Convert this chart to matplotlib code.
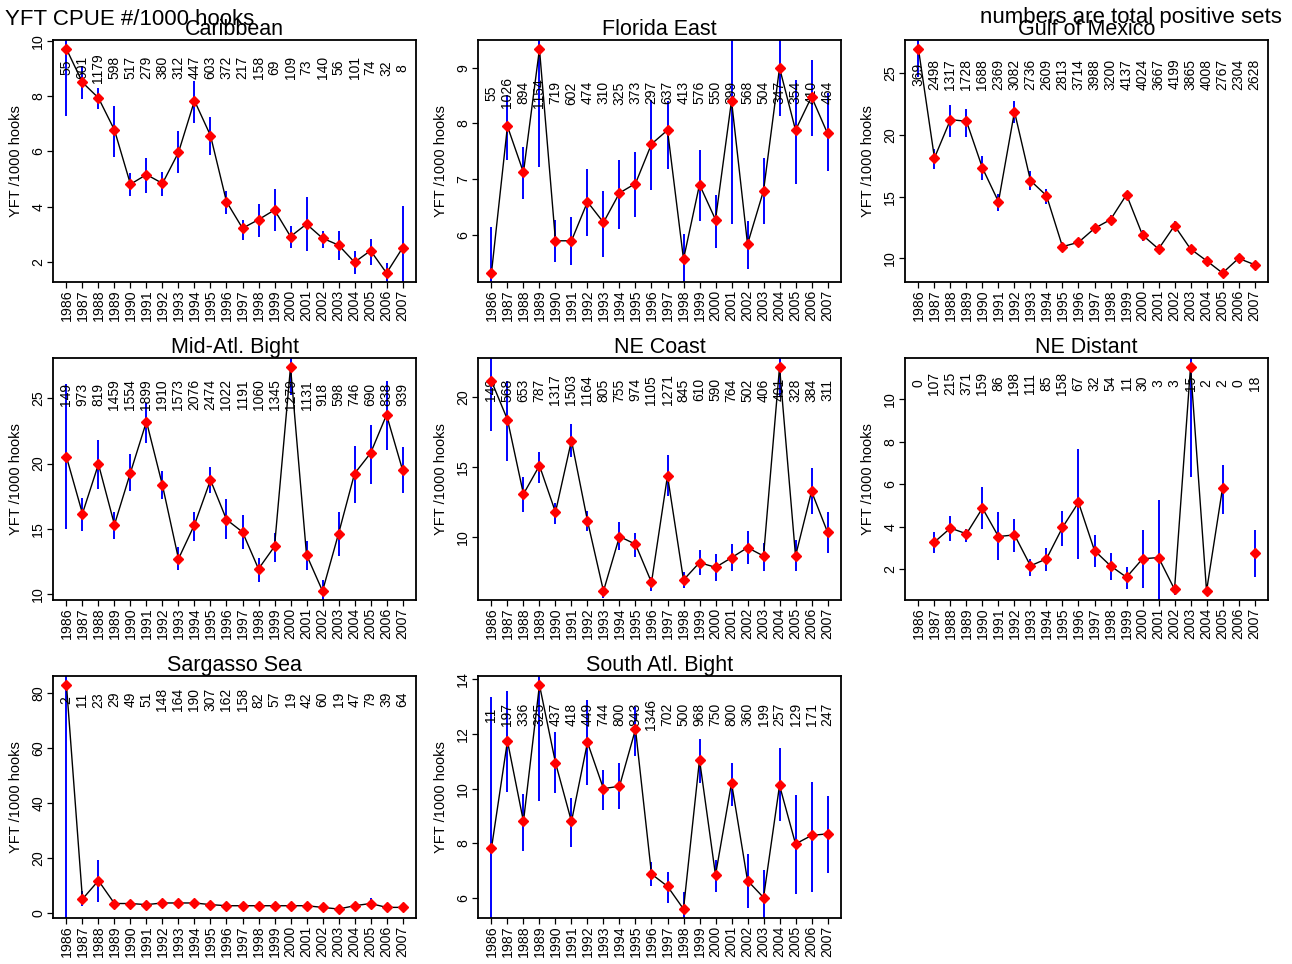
import numpy as np
import matplotlib
matplotlib.use('Agg')
import matplotlib.pyplot as plt
from matplotlib.ticker import MultipleLocator

plt.rcParams['font.family'] = ['Liberation Sans', 'DejaVu Sans']

years = list(range(1986, 2008))
nan = np.nan

# CPUE index (YFT per 1000 hooks), upper/lower bar ends, and positive set counts
carib_cpue = [9.70, 8.49, 7.93, 6.77, 4.81, 5.16, 4.84, 5.96, 7.83, 6.57, 4.18, 3.22, 3.53, 3.88, 2.92, 3.37, 2.86, 2.61, 1.99, 2.41, 1.60, 2.51]
carib_hi = [12.1, 9.07, 8.29, 7.63, 5.20, 5.76, 5.24, 6.72, 8.55, 7.25, 4.58, 3.52, 4.10, 4.64, 3.31, 4.34, 3.13, 3.13, 2.41, 2.83, 1.95, 4.04]
carib_lo = [7.29, 7.89, 7.53, 5.81, 4.40, 4.48, 4.40, 5.20, 7.01, 5.87, 3.73, 2.81, 2.92, 3.13, 2.51, 2.41, 2.51, 2.07, 1.57, 1.90, 1.2, 1.0]
carib_sets = [55, 601, 1179, 598, 517, 279, 380, 312, 447, 603, 372, 217, 158, 69, 109, 73, 140, 56, 101, 74, 32, 8]

fle_cpue = [5.31, 7.95, 7.12, 9.34, 5.89, 5.89, 6.59, 6.22, 6.75, 6.92, 7.63, 7.88, 5.56, 6.90, 6.27, 8.41, 5.83, 6.79, 9.00, 7.88, 8.48, 7.82]
fle_hi = [6.14, 8.51, 7.58, 9.9, 6.26, 6.31, 7.19, 6.79, 7.34, 7.49, 8.43, 8.40, 6.01, 7.52, 6.72, 10.0, 6.24, 7.37, 10.0, 8.78, 9.15, 8.55]
fle_lo = [4.6, 7.34, 6.64, 7.22, 5.50, 5.46, 5.98, 5.60, 6.11, 6.32, 6.80, 7.19, 4.9, 6.24, 5.76, 6.19, 5.38, 6.19, 8.13, 6.92, 7.77, 7.15]
fle_sets = [55, 1026, 894, 1154, 719, 602, 474, 310, 325, 373, 297, 637, 413, 576, 550, 399, 568, 504, 347, 354, 410, 464]

gom_cpue = [26.97, 18.14, 21.24, 21.11, 17.32, 14.59, 21.89, 16.30, 15.08, 10.95, 11.30, 12.43, 13.14, 15.16, 11.89, 10.76, 12.65, 10.76, 9.81, 8.81, 10.00, 9.49]
gom_hi = [29.5, 18.86, 22.43, 22.11, 18.32, 15.22, 22.78, 17.05, 15.62, 11.30, 11.65, 12.78, 13.54, 15.49, 12.30, 11.03, 13.00, 11.08, 10.14, 9.14, 10.30, 9.81]
gom_lo = [24.68, 17.24, 19.86, 19.86, 16.35, 13.86, 20.95, 15.54, 14.41, 10.57, 10.89, 12.03, 12.73, 14.73, 11.43, 10.49, 12.24, 10.35, 9.49, 8.46, 9.62, 9.05]
gom_sets = [369, 2498, 1317, 1728, 1688, 2369, 3082, 2736, 2609, 2813, 3714, 3988, 3200, 4137, 4024, 3667, 4199, 3865, 4008, 2767, 2304, 2628]

mab_cpue = [20.51, 16.18, 19.95, 15.33, 19.31, 23.21, 18.33, 12.72, 15.33, 18.74, 15.72, 14.77, 11.95, 13.67, 27.38, 13.03, 10.26, 14.64, 19.23, 20.79, 23.72, 19.51]
mab_hi = [26.10, 17.38, 21.82, 16.28, 20.72, 24.62, 19.44, 13.59, 16.28, 19.74, 17.26, 16.10, 12.82, 14.69, 29.5, 14.05, 11.10, 16.28, 21.36, 22.95, 26.31, 21.28]
mab_lo = [15.03, 14.82, 18.03, 14.26, 17.90, 21.56, 17.26, 11.87, 14.10, 17.77, 14.26, 13.49, 10.92, 12.51, 25.20, 11.87, 9.2, 12.97, 16.95, 18.46, 21.05, 17.72]
mab_sets = [149, 973, 819, 1459, 1554, 1899, 1910, 1573, 2076, 2474, 1022, 1191, 1060, 1345, 1279, 1131, 918, 598, 746, 690, 838, 939]

nec_cpue = [21.15, 18.40, 13.08, 15.11, 11.79, 16.90, 11.17, 6.16, 10.05, 9.50, 6.78, 14.39, 6.95, 8.19, 7.85, 8.54, 9.26, 8.66, 22.15, 8.66, 13.27, 10.36]
nec_hi = [24.5, 21.15, 14.27, 16.09, 12.43, 18.11, 11.84, 6.54, 11.07, 10.29, 7.18, 15.89, 7.49, 9.09, 8.78, 9.50, 10.41, 9.57, 24.0, 9.78, 14.94, 11.77]
nec_lo = [17.61, 15.42, 11.79, 13.87, 10.95, 15.70, 10.41, 5.63, 9.09, 8.57, 6.16, 12.91, 6.35, 7.30, 6.87, 7.59, 8.07, 7.59, 20.07, 7.59, 11.65, 8.90]
nec_sets = [149, 568, 653, 787, 1317, 1503, 1164, 805, 755, 974, 1105, 1271, 845, 610, 590, 764, 502, 406, 401, 328, 384, 311]

ned_cpue = [nan, 3.27, 3.93, 3.66, 4.87, 3.53, 3.61, 2.15, 2.48, 3.96, 5.14, 2.87, 2.15, 1.61, 2.48, 2.54, 1.04, 11.53, 0.96, 5.82, nan, 2.74]
ned_hi = [nan, 3.74, 4.48, 3.88, 5.87, 4.67, 4.35, 2.48, 3.01, 4.75, 7.68, 3.61, 2.74, 2.08, 3.82, 5.27, 1.28, 12.8, 1.17, 6.92, nan, 3.82]
ned_lo = [nan, 2.74, 3.33, 3.27, 3.88, 2.43, 2.82, 1.69, 1.91, 3.09, 2.48, 2.08, 1.48, 1.04, 1.09, 0.2, 0.77, 6.34, 0.77, 4.59, nan, 1.61]
ned_sets = [0, 107, 215, 371, 159, 86, 198, 111, 85, 158, 67, 32, 54, 11, 30, 3, 3, 15, 2, 2, 0, 18]

sar_cpue = [82.8, 5.2, 11.9, 3.6, 3.6, 3.2, 3.8, 3.8, 3.8, 3.2, 2.8, 2.8, 2.8, 2.8, 2.8, 2.8, 2.2, 1.6, 2.8, 3.6, 2.2, 2.2]
sar_hi = [175, 8.0, 19.2, 4.6, 4.5, 4.1, 4.7, 4.6, 4.6, 4.0, 3.6, 3.5, 3.5, 3.6, 3.5, 3.5, 2.9, 2.4, 3.6, 5.6, 2.9, 2.9]
sar_lo = [-5, 2.8, 4.2, 2.2, 2.8, 2.3, 2.9, 3.0, 3.0, 2.4, 2.1, 2.1, 2.1, 2.0, 2.1, 2.1, 1.5, 1.0, 2.0, 2.2, 1.6, 1.6]
sar_sets = [2, 11, 23, 29, 49, 51, 148, 164, 190, 307, 162, 158, 82, 57, 19, 42, 60, 19, 47, 79, 39, 64]

sab_cpue = [7.82, 11.74, 8.80, 13.79, 10.95, 8.80, 11.69, 10.00, 10.09, 12.17, 6.88, 6.43, 5.60, 11.06, 6.84, 10.21, 6.64, 6.02, 10.12, 7.98, 8.29, 8.35]
sab_hi = [13.36, 13.58, 9.82, 15.0, 12.06, 9.67, 13.24, 10.70, 10.92, 13.00, 7.31, 6.94, 6.23, 11.83, 7.39, 10.95, 7.61, 7.04, 11.47, 9.78, 10.24, 9.72]
sab_lo = [4.5, 9.88, 7.71, 9.54, 9.84, 7.88, 10.15, 9.23, 9.27, 11.19, 6.45, 5.82, 5.0, 10.21, 6.23, 9.36, 5.62, 5.0, 8.81, 6.15, 6.23, 6.91]
sab_sets = [11, 197, 336, 325, 437, 418, 449, 744, 800, 843, 1346, 702, 500, 968, 750, 800, 360, 199, 257, 129, 171, 247]

# (title, cpue, hi, lo, sets, y tick step, axes box in pixels: left, top)
panels = [
    ('Caribbean', carib_cpue, carib_hi, carib_lo, carib_sets, 2, (53, 40)),
    ('Florida East', fle_cpue, fle_hi, fle_lo, fle_sets, 1, (478, 40)),
    ('Gulf of Mexico', gom_cpue, gom_hi, gom_lo, gom_sets, 5, (905, 40)),
    ('Mid-Atl. Bight', mab_cpue, mab_hi, mab_lo, mab_sets, 5, (53, 358)),
    ('NE Coast', nec_cpue, nec_hi, nec_lo, nec_sets, 5, (478, 358)),
    ('NE Distant', ned_cpue, ned_hi, ned_lo, ned_sets, 2, (905, 358)),
    ('Sargasso Sea', sar_cpue, sar_hi, sar_lo, sar_sets, 20, (53, 676)),
    ('South Atl. Bight', sab_cpue, sab_hi, sab_lo, sab_sets, 2, (478, 676)),
]

W, H = 1292, 964
AX_W, AX_H = 363, 242


def draw_panel(fig, title, cpue, hi, lo, sets, step, box):
    left, top = box
    ax = fig.add_axes([left / W, 1 - (top + AX_H) / H, AX_W / W, AX_H / H])
    cpue = np.array(cpue, dtype=float)

    ax.vlines(years, lo, hi, color='#0000ff', lw=1.4, zorder=2)
    ax.plot(years, cpue, color='black', lw=1.0, zorder=3)
    ax.plot(years, cpue, 'D', color='red', ms=5, mec='red', zorder=4)

    # R-style axis extension: 4% of the data range on each side
    lo_y, hi_y = np.nanmin(cpue), np.nanmax(cpue)
    pad = 0.04 * (hi_y - lo_y)
    ax.set_ylim(lo_y - pad, hi_y + pad)
    ax.set_xlim(years[0] - 0.04 * 21, years[-1] + 0.04 * 21)

    ytxt = 0.9 * ax.get_ylim()[1]
    for yr, n in zip(years, sets):
        ax.text(yr, ytxt, str(n), rotation=90, ha='center', va='center',
                fontsize=10, zorder=3)

    ax.set_xticks(years)
    ax.set_xticklabels([str(y) for y in years], rotation=90, fontsize=10.2)
    ax.yaxis.set_major_locator(MultipleLocator(step))
    ax.tick_params(direction='out', length=4, width=0.9, pad=1.5, labelsize=10.2)
    plt.setp(ax.get_yticklabels(), rotation=90, va='center')
    ax.set_ylabel('YFT /1000 hooks', fontsize=10.5)
    ax.yaxis.set_label_coords(-0.082, 0.5)
    ax.set_title(title, fontsize=15.5, pad=0)
    for sp in ax.spines.values():
        sp.set_linewidth(1.3)
    return ax


fig = plt.figure(figsize=(W / 100, H / 100), dpi=100)
for title, cpue, hi, lo, sets, step, box in panels:
    draw_panel(fig, title, cpue, hi, lo, sets, step, box)

fig.text(5 / W, 1 - 25 / H, 'YFT CPUE #/1000 hooks', fontsize=16, ha='left', va='baseline')
fig.text(1282 / W, 1 - 23 / H, 'numbers are total positive sets', fontsize=16, ha='right', va='baseline')

fig.savefig('out.png', dpi=100, facecolor='white')
